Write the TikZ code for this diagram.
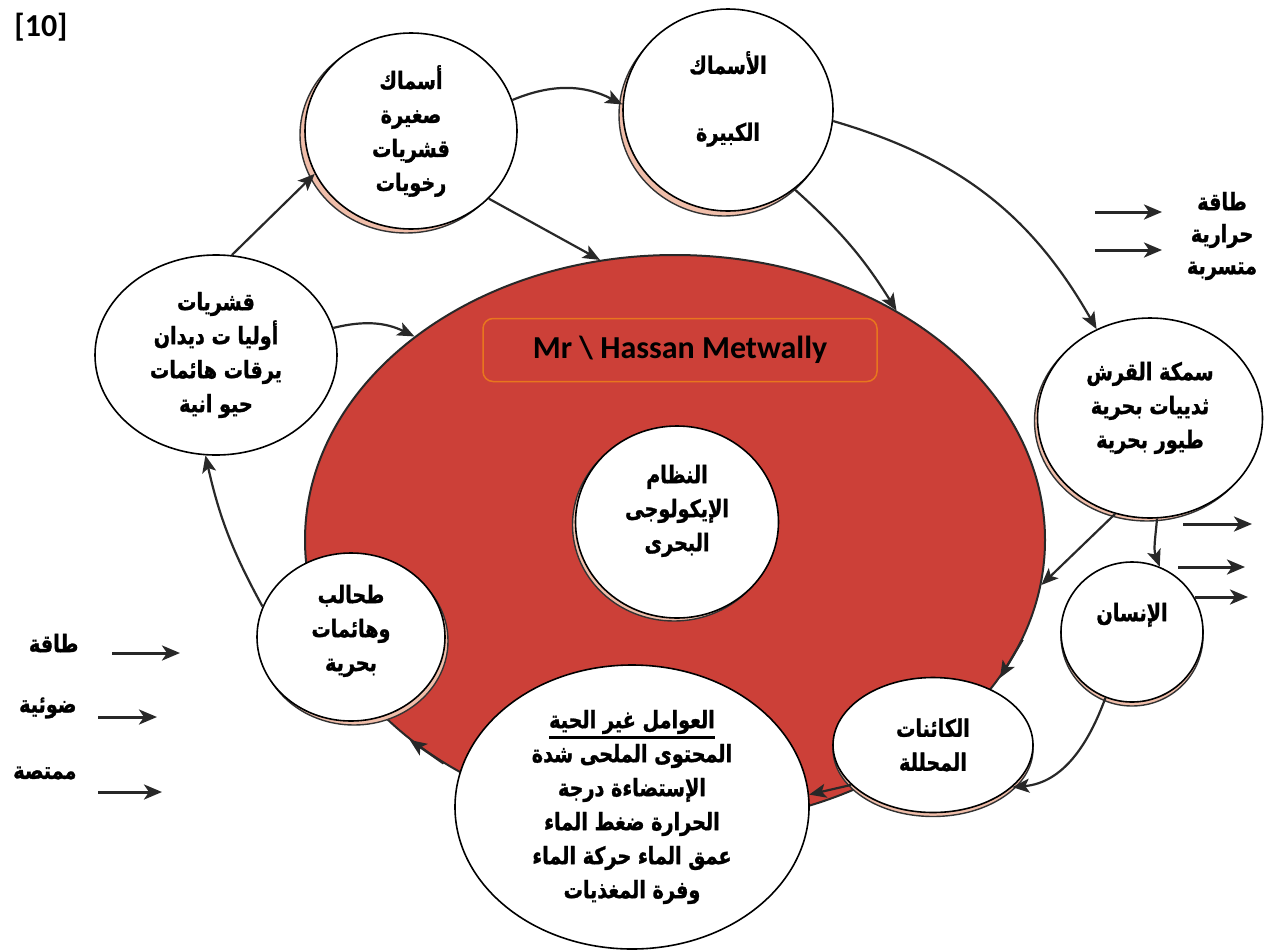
\documentclass[tikz,border=0pt]{standalone}
\usepackage{fontspec}
\setmainfont{Carlito}
\newfontfamily\arfont[Script=Arabic,FakeStretch=0.8,BoldFeatures={FakeBold=1.2}]{DejaVu Sans}
\TeXXeTstate=1
\usetikzlibrary{shapes.geometric,arrows.meta,shadows,calc}
\definecolor{ecored}{RGB}{204,64,56}
\definecolor{shadc}{RGB}{240,190,170}
\definecolor{orng}{RGB}{232,118,30}
\definecolor{ln}{RGB}{40,40,40}
\newcommand\rl[1]{\beginR #1\endR}
\newcommand\ulin[1]{\setbox0\hbox{#1}\leavevmode\rlap{\copy0}\rule[-\dimexpr\dp0+5pt\relax]{\wd0}{3pt}}
\begin{document}
\begin{tikzpicture}[x=1pt,y=-1pt,
  artxt/.style={font=\arfont\bfseries\fontsize{24}{34}\selectfont},
  circ/.style={ellipse, draw=black, line width=1.6pt, fill=white, align=center, inner sep=0pt, artxt},
  shd/.style 2 args={general shadow={shadow xshift=#1, shadow yshift=#2, fill=shadc, draw=black!80, line width=1.4pt}},
  arr/.style={draw=ln, line width=2.2pt, -{Stealth[length=17pt,width=14pt,inset=4pt]}},
  earr/.style={draw=ln, line width=3pt, -{Stealth[length=18pt,width=15pt,inset=5pt]}},
]
\useasboundingbox (0,0) rectangle (1272,951);
\fill[white] (0,0) rectangle (1272,951);

% big red ellipse
\node[ellipse, draw=ln, line width=2pt, fill=ecored, minimum width=740pt, minimum height=570pt, inner sep=0pt] (eco) at (675,540) {};
\node[draw=orng, line width=1.5pt, rounded corners=10pt, minimum width=394pt, minimum height=63pt, font=\bfseries\fontsize{32}{38}\selectfont] (name) at (680,350) {Mr \textbackslash{} Hassan Metwally};

% circles
\node[circ, shd={-3pt}{-3pt}, minimum width=203pt, minimum height=192pt] (center) at (677,522)
  {\rl{النظام}\\\rl{الإيكولوجى}\\\rl{البحرى}\\[-6pt]\mbox{}};
\node[circ, shd={-5pt}{-4pt}, minimum width=212pt, minimum height=196pt] (smallfish) at (411,131)
  {\rl{أسماك}\\\rl{صغيرة}\\\rl{قشريات}\\\rl{رخويات}};
\node[circ, shd={-4pt}{-5pt}, minimum width=210pt, minimum height=202pt] (bigfish) at (728,110)
  {\rl{الأسماك}\\[33pt]\rl{الكبيرة}\\[-6pt]\mbox{}};
\node[circ, minimum width=242pt, minimum height=200pt] (crust) at (216,355)
  {\rl{قشريات}\\\rl{أوليا ت ديدان}\\\rl{يرقات هائمات}\\\rl{حيو انية}};
\node[circ, shd={-3pt}{-3pt}, minimum width=225pt, minimum height=200pt] (shark) at (1150,418)
  {\rl{سمكة القرش}\\\rl{ثدييات بحرية}\\\rl{طيور بحرية}\\[-8pt]\mbox{}};
\node[circ, shd={0pt}{-4pt}, minimum width=142pt, minimum height=140pt] (human) at (1132,632)
  {\rl{الإنسان}\\[6pt]\mbox{}};
\node[circ, shd={0pt}{-4pt}, minimum width=200pt, minimum height=135pt] (decomp) at (933,745)
  {\rl{الكائنات}\\\rl{المحللة}};
\node[circ, shd={3pt}{-4pt}, minimum width=188pt, minimum height=168pt] (algae) at (351,637)
  {\rl{طحالب}\\\rl{وهائمات}\\\rl{بحرية}\\[-16pt]\mbox{}};
\node[circ, minimum width=354pt, minimum height=284pt] (abiotic) at (632,807)
  {\ulin{\rl{العوامل غير الحية}}\\\rl{المحتوى الملحى شدة}\\\rl{الإستضاءة درجة}\\\rl{الحرارة ضغط الماء}\\\rl{عمق الماء حركة الماء}\\\rl{وفرة المغذيات}};

% connectors
\draw[arr] (algae.161) to[bend left=8] (crust.264);
\draw[arr] (crust.81) -- (smallfish.204);
\draw[arr] (crust.13) to[bend left=20] (eco.142);
\draw[arr] (smallfish.17) to[bend left=25] (bigfish.177);
\draw[arr] (smallfish.-41) -- (eco.105);
\draw[arr] (bigfish.-50) to[bend left=8] (eco.46);
\draw[arr] (bigfish.-6) to[bend left=22] (shark.121);
\draw[arr] (shark.250) -- (eco.-7);
\draw[arr] (shark.-86) to[out=-95,in=110] (human.67);
\draw[arr] (human.248) to[out=250,in=5] (decomp.-28);
\draw[arr] (decomp.206) -- (abiotic.4);
\draw[arr] (eco.-16) -- (eco.-23);
\draw[arr] (eco.224) -- (eco.217);

% energy in (left)
\node[artxt, anchor=east] (lt1) at (82,643) {\rl{طاقة}};
\node[artxt, anchor=east] (lt2) at (80,708) {\rl{ضوئية}};
\node[artxt, anchor=east] (lt3) at (80,773) {\rl{ممتصة}};
\coordinate (l1s) at (112,653); \coordinate (l1e) at (180,653);
\coordinate (l2s) at (98,717);  \coordinate (l2e) at (157,717);
\coordinate (l3s) at (98,792);  \coordinate (l3e) at (162,792);
\draw[earr] (l1s) -- (l1e);
\draw[earr] (l2s) -- (l2e);
\draw[earr] (l3s) -- (l3e);

% energy out (right top)
\node[align=center, font=\arfont\bfseries\fontsize{24}{32}\selectfont] (rt) at (1222,236) {\rl{طاقة}\\\rl{حرارية}\\\rl{متسربة}};
\coordinate (r1s) at (1095,212); \coordinate (r1e) at (1162,212);
\coordinate (r2s) at (1095,250); \coordinate (r2e) at (1162,250);
\draw[earr] (r1s) -- (r1e);
\draw[earr] (r2s) -- (r2e);

% energy out (right middle)
\coordinate (h1s) at (1183,524); \coordinate (h1e) at (1252,524);
\coordinate (h2s) at (1178,567); \coordinate (h2e) at (1245,567);
\coordinate (h3s) at (1195,597); \coordinate (h3e) at (1248,597);
\draw[earr] (h1s) -- (h1e);
\draw[earr] (h2s) -- (h2e);
\draw[earr] (h3s) -- (h3e);

\node[font=\bfseries\fontsize{32}{38}\selectfont] (num) at (41,27) {[10]};
\end{tikzpicture}
\end{document}
